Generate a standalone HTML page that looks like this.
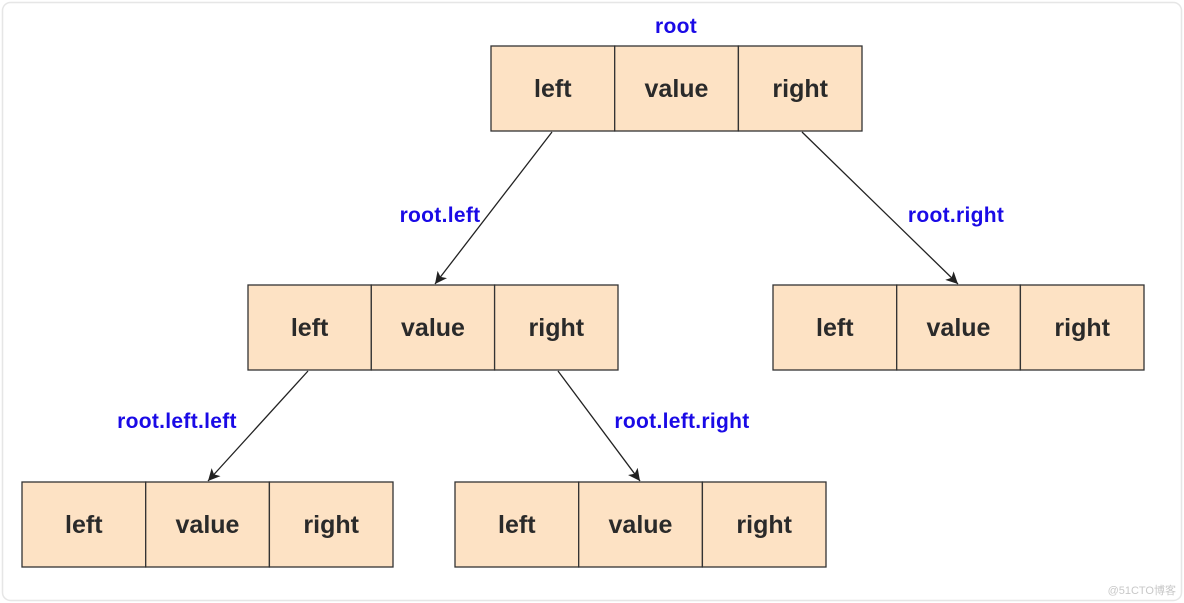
<!DOCTYPE html>
<html><head><meta charset="utf-8"><style>
html,body{margin:0;padding:0;background:#fff;width:1184px;height:603px;overflow:hidden}
svg{display:block}
.c{fill:#fde2c4;stroke:#333;stroke-width:1.3}
.t{font-family:"Liberation Sans",sans-serif;font-size:25px;font-weight:bold;fill:#2a2a2a;text-anchor:middle}
.l{font-family:"Liberation Sans",sans-serif;font-size:21px;font-weight:bold;fill:#1a0ae6;text-anchor:middle;letter-spacing:0.3px}
</style></head><body>
<svg width="1184" height="603" viewBox="0 0 1184 603" xmlns="http://www.w3.org/2000/svg">
<defs><marker id="a" markerWidth="14" markerHeight="14" refX="12" refY="6" orient="auto" markerUnits="userSpaceOnUse"><path d="M0,0 L12,6 L0,12 L3,6 Z" fill="#222"/></marker></defs>
<rect x="2.5" y="2.5" width="1179" height="598" rx="8" fill="none" stroke="#e6e6e6" stroke-width="1.5"/>
<g>
<rect class="c" x="491" y="46" width="123.7" height="85"/><rect class="c" x="614.7" y="46" width="123.7" height="85"/><rect class="c" x="738.4" y="46" width="123.6" height="85"/>
<text class="t" x="552.8" y="97">left</text><text class="t" x="676.5" y="97">value</text><text class="t" x="800.2" y="97">right</text>
</g>
<g>
<rect class="c" x="248" y="285" width="123.3" height="85"/><rect class="c" x="371.3" y="285" width="123.3" height="85"/><rect class="c" x="494.6" y="285" width="123.4" height="85"/>
<text class="t" x="309.6" y="336">left</text><text class="t" x="433" y="336">value</text><text class="t" x="556.3" y="336">right</text>
</g>
<g>
<rect class="c" x="773" y="285" width="123.7" height="85"/><rect class="c" x="896.7" y="285" width="123.7" height="85"/><rect class="c" x="1020.4" y="285" width="123.6" height="85"/>
<text class="t" x="834.8" y="336">left</text><text class="t" x="958.5" y="336">value</text><text class="t" x="1082.2" y="336">right</text>
</g>
<g>
<rect class="c" x="22" y="482" width="123.7" height="85"/><rect class="c" x="145.7" y="482" width="123.7" height="85"/><rect class="c" x="269.4" y="482" width="123.6" height="85"/>
<text class="t" x="83.8" y="533">left</text><text class="t" x="207.5" y="533">value</text><text class="t" x="331.2" y="533">right</text>
</g>
<g>
<rect class="c" x="455" y="482" width="123.7" height="85"/><rect class="c" x="578.7" y="482" width="123.7" height="85"/><rect class="c" x="702.4" y="482" width="123.6" height="85"/>
<text class="t" x="516.8" y="533">left</text><text class="t" x="640.5" y="533">value</text><text class="t" x="764.2" y="533">right</text>
</g>
<g stroke="#222" stroke-width="1.3" fill="none">
<line x1="552" y1="132" x2="435" y2="284" marker-end="url(#a)"/>
<line x1="802" y1="132" x2="958" y2="284" marker-end="url(#a)"/>
<line x1="308" y1="371" x2="208" y2="481" marker-end="url(#a)"/>
<line x1="558" y1="371" x2="640" y2="481" marker-end="url(#a)"/>
</g>
<text class="l" x="676" y="33">root</text>
<text class="l" x="440" y="222">root.left</text>
<text class="l" x="956" y="222">root.right</text>
<text class="l" x="177" y="428">root.left.left</text>
<text class="l" x="682" y="428">root.left.right</text>
<text x="1176" y="594" font-family="Liberation Sans,Noto Sans CJK SC,sans-serif" font-size="11" fill="#c8c8c8" text-anchor="end">@51CTO博客</text>
</svg>
</body></html>
